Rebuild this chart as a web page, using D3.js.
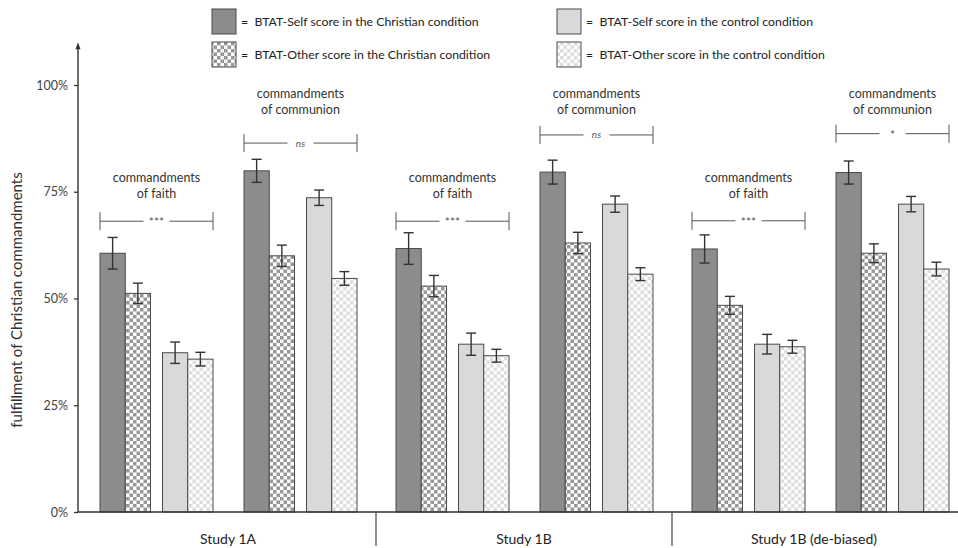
<!DOCTYPE html>
<html><head><meta charset="utf-8">
<script src="https://cdn.jsdelivr.net/npm/d3@7/dist/d3.min.js"></script>
<style>
html,body{margin:0;padding:0;background:#fff;}
svg{display:block;font-family:Lato, "Open Sans", sans-serif;}
</style></head>
<body><svg id="chart" width="958" height="548"></svg>
<script>
// ---------- DATA ----------
const studies = ["Study 1A", "Study 1B", "Study 1B (de-biased)"];
const groups = ["faith", "communion"];
const conditions = ["Christian", "control"];
const measures = ["Self", "Other"];

const faithSelfChristian      = [60.6, 61.7, 61.6];
const faithOtherChristian     = [51.2, 52.9, 48.4];
const faithSelfControl        = [37.3, 39.3, 39.3];
const faithOtherControl       = [35.8, 36.6, 38.7];
const communionSelfChristian  = [79.9, 79.6, 79.5];
const communionOtherChristian = [60.0, 63.0, 60.6];
const communionSelfControl    = [73.6, 72.1, 72.1];
const communionOtherControl   = [54.7, 55.7, 56.9];

const faithSelfChristianErr      = [3.7, 3.7, 3.3];
const faithOtherChristianErr     = [2.4, 2.5, 2.1];
const faithSelfControlErr        = [2.5, 2.6, 2.3];
const faithOtherControlErr       = [1.6, 1.5, 1.5];
const communionSelfChristianErr  = [2.7, 2.8, 2.7];
const communionOtherChristianErr = [2.5, 2.5, 2.2];
const communionSelfControlErr    = [1.8, 1.9, 1.8];
const communionOtherControlErr   = [1.6, 1.5, 1.6];

const faithSignificance     = ["***", "***", "***"];
const communionSignificance = ["ns", "ns", "*"];
const faithBracketLevel     = [68.1, 68.1, 68.2];
const communionBracketLevel = [86.4, 88.3, 88.6];
const groupLabels = {faith: ["commandments", "of faith"], communion: ["commandments", "of communion"]};

const yTicks = [0, 25, 50, 75, 100];
const yTitle = "fulfillment of Christian commandments";
const legendLabels = [
  "=  BTAT-Self score in the Christian condition",
  "=  BTAT-Other score in the Christian condition",
  "=  BTAT-Self score in the control condition",
  "=  BTAT-Other score in the control condition"
];

// ---------- BUILD ----------
const seriesList = [
  {group:"faith", condition:"Christian", measure:"Self", values:faithSelfChristian, errors:faithSelfChristianErr},
  {group:"faith", condition:"Christian", measure:"Other", values:faithOtherChristian, errors:faithOtherChristianErr},
  {group:"faith", condition:"control", measure:"Self", values:faithSelfControl, errors:faithSelfControlErr},
  {group:"faith", condition:"control", measure:"Other", values:faithOtherControl, errors:faithOtherControlErr},
  {group:"communion", condition:"Christian", measure:"Self", values:communionSelfChristian, errors:communionSelfChristianErr},
  {group:"communion", condition:"Christian", measure:"Other", values:communionOtherChristian, errors:communionOtherChristianErr},
  {group:"communion", condition:"control", measure:"Self", values:communionSelfControl, errors:communionSelfControlErr},
  {group:"communion", condition:"control", measure:"Other", values:communionOtherControl, errors:communionOtherControlErr}
];
const bars = [];
studies.forEach((s, i) => seriesList.forEach(se => bars.push({
  study:s, group:se.group, condition:se.condition, measure:se.measure,
  value:se.values[i], err:se.errors[i]
})));
const brackets = [];
studies.forEach((s, i) => {
  brackets.push({study:s, group:"faith", level:faithBracketLevel[i], sig:faithSignificance[i]});
  brackets.push({study:s, group:"communion", level:communionBracketLevel[i], sig:communionSignificance[i]});
});

const svg = d3.select("#chart");
const defs = svg.append("defs");
function checker(id, c) {
  const p = defs.append("pattern").attr("id", id).attr("patternUnits", "userSpaceOnUse")
    .attr("width", 7).attr("height", 7);
  p.append("rect").attr("width", 7).attr("height", 7).attr("fill", "#fff");
  p.append("rect").attr("width", 3.5).attr("height", 3.5).attr("fill", c);
  p.append("rect").attr("x", 3.5).attr("y", 3.5).attr("width", 3.5).attr("height", 3.5).attr("fill", c);
}
checker("checkDark", "#979799");
checker("checkLight", "#dedee0");
const fills = {
  "Christian-Self": "#8c8c8e",
  "Christian-Other": "url(#checkDark)",
  "control-Self": "#d9d9db",
  "control-Other": "url(#checkLight)"
};

const y = d3.scaleLinear().domain([0, 100]).range([512, 85]);
const yTop = 108.6;
const x0 = d3.scaleBand().domain(studies).range([80, 968]);
const x1 = d3.scaleBand().domain(groups).range([20, 277]).paddingInner(31 / 144);
const x2 = d3.scaleBand().domain(conditions).range([0, x1.bandwidth()]).paddingInner(12 / 62.5);
const x3 = d3.scaleBand().domain(measures).range([0, x2.bandwidth()]);
const bx = d => x0(d.study) + x1(d.group) + x2(d.condition) + x3(d.measure);

// bars
svg.append("g").selectAll("rect").data(bars).join("rect")
  .attr("x", d => bx(d)).attr("width", x3.bandwidth())
  .attr("y", d => y(d.value)).attr("height", d => y(0) - y(d.value))
  .attr("fill", d => fills[d.condition + "-" + d.measure])
  .attr("stroke", "#4a4a4a").attr("stroke-width", 1);

// error bars
const eg = svg.append("g").attr("stroke", "#333").attr("stroke-width", 1.4).attr("fill", "none");
bars.forEach(d => {
  const cx = bx(d) + x3.bandwidth() / 2;
  const t = y(d.value + d.err), b = y(d.value - d.err);
  eg.append("line").attr("x1", cx).attr("x2", cx).attr("y1", t).attr("y2", b);
  eg.append("line").attr("x1", cx - 5).attr("x2", cx + 5).attr("y1", t).attr("y2", t);
  eg.append("line").attr("x1", cx - 5).attr("x2", cx + 5).attr("y1", b).attr("y2", b);
});

// brackets
const bg = svg.append("g");
brackets.forEach(d => {
  const l = x0(d.study) + x1(d.group), r = l + x1.bandwidth(), c = (l + r) / 2, yy = y(d.level);
  const gap = 13;
  const g = bg.append("g").attr("stroke", "#555").attr("stroke-width", 1);
  g.append("line").attr("x1", l).attr("x2", c - gap).attr("y1", yy).attr("y2", yy);
  g.append("line").attr("x1", c + gap).attr("x2", r).attr("y1", yy).attr("y2", yy);
  g.append("line").attr("x1", l).attr("x2", l).attr("y1", yy - 9).attr("y2", yy + 9);
  g.append("line").attr("x1", r).attr("x2", r).attr("y1", yy - 9).attr("y2", yy + 9);
  bg.append("text").attr("x", c).attr("y", yy + (d.sig === "ns" ? 3.5 : 5)).attr("text-anchor", "middle")
    .attr("font-size", d.sig === "ns" ? 10 : 12).attr("fill", "#555")
    .attr("font-style", d.sig === "ns" ? "italic" : "normal").text(d.sig);
  const labY = d.group === "faith" ? y(78.3) : y(98.0);
  groupLabels[d.group].forEach((t, k) => {
    bg.append("text").attr("x", c).attr("y", labY + k * 16 + 4).attr("text-anchor", "middle")
      .attr("font-size", 12.5).attr("fill", "#333").text(t);
  });
});

// y axis
const yAxis = d3.axisLeft(y).tickValues(yTicks).tickFormat(d => d + "%").tickSize(4).tickPadding(6);
const ya = svg.append("g").attr("transform", "translate(78,0)").call(yAxis);
ya.select(".domain").remove();
ya.selectAll("line").attr("stroke", "#333").attr("stroke-width", 1.3);
ya.selectAll("text").attr("font-size", 12.5).attr("fill", "#444").attr("font-family", "Lato");
svg.append("line").attr("x1", 78).attr("x2", 78).attr("y1", y(0)).attr("y2", y(yTop))
  .attr("stroke", "#333").attr("stroke-width", 1.4);
svg.append("path").attr("d", `M${78},${y(yTop) - 6} L${75.5},${y(yTop) + 1} L${80.5},${y(yTop) + 1} Z`).attr("fill", "#333");
svg.append("text").attr("transform", `translate(22,300) rotate(-90)`)
  .attr("text-anchor", "middle").attr("font-size", 15).attr("fill", "#333").text(yTitle);

// x axis
svg.append("line").attr("x1", 78).attr("x2", 958).attr("y1", y(0)).attr("y2", y(0))
  .attr("stroke", "#333").attr("stroke-width", 1.4);
studies.slice(1).forEach(s => {
  svg.append("line").attr("x1", x0(s)).attr("x2", x0(s)).attr("y1", y(0)).attr("y2", 546)
    .attr("stroke", "#444").attr("stroke-width", 1.2);
});
svg.append("g").selectAll("text").data(studies).join("text")
  .attr("x", (d, i) => x0(d) + x0.bandwidth() / 2 - (i === 2 ? 6 : 0)).attr("y", 544).attr("text-anchor", "middle")
  .attr("font-size", 14).attr("fill", "#222").text(d => d);

// legend
const legendFills = ["Christian-Self", "Christian-Other", "control-Self", "control-Other"];
const lg = svg.append("g");
legendLabels.forEach((t, i) => {
  const col = Math.floor(i / 2), row = i % 2;
  const lx = col === 0 ? 212 : 557, ly = row === 0 ? 9 : 42;
  lg.append("rect").attr("x", lx).attr("y", ly).attr("width", 24).attr("height", 25)
    .attr("fill", fills[legendFills[i]]).attr("stroke", "#4a4a4a").attr("stroke-width", 1);
  lg.append("text").attr("x", lx + 29).attr("y", ly + 17).attr("font-size", 12.3)
    .attr("fill", "#222").style("white-space", "pre").text(t);
});
</script></body></html>
